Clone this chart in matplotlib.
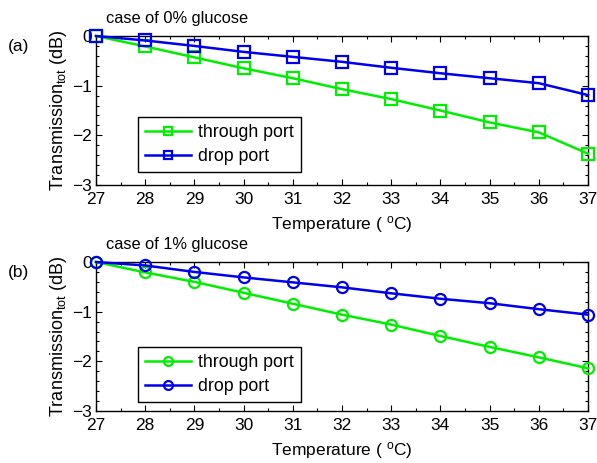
import matplotlib
matplotlib.use("Agg")
import matplotlib.pyplot as plt
from matplotlib.ticker import MultipleLocator

plt.rcParams['font.family'] = ['Liberation Sans', 'DejaVu Sans']

temperature = [27, 28, 29, 30, 31, 32, 33, 34, 35, 36, 37]
through_0 = [0, -0.21, -0.43, -0.65, -0.85, -1.07, -1.27, -1.50, -1.74, -1.94, -2.37]
drop_0 = [0, -0.09, -0.20, -0.32, -0.42, -0.52, -0.64, -0.75, -0.85, -0.95, -1.19]
through_1 = [0, -0.21, -0.40, -0.62, -0.84, -1.06, -1.26, -1.49, -1.71, -1.92, -2.14]
drop_1 = [0, -0.07, -0.20, -0.31, -0.41, -0.51, -0.63, -0.74, -0.83, -0.95, -1.06]

titles = ['case of 0% glucose', 'case of 1% glucose']
panel_labels = ['(a)', '(b)']
series_names = ['through port', 'drop port']

fig = plt.figure(figsize=(5.97, 4.63), dpi=100)
W, H = 597, 463
left, right = 96, 588
panels = [(36, 185, 117), (262, 411, 347)]
data = [(through_0, drop_0, 's'), (through_1, drop_1, 'o')]

for i, ((top, bot, legtop), (thr, drp, mk)) in enumerate(zip(panels, data)):
    ax = fig.add_axes([left / W, 1 - bot / H, (right - left) / W, (bot - top) / H])
    ax.plot(temperature, thr, color='#00ee00', marker=mk, markersize=8,
            markerfacecolor='none', markeredgewidth=1.6, linewidth=1.8,
            label=series_names[0], clip_on=False, zorder=3)
    ax.plot(temperature, drp, color='#0000ee', marker=mk, markersize=8,
            markerfacecolor='none', markeredgewidth=1.6, linewidth=1.8,
            label=series_names[1], clip_on=False, zorder=4)
    ax.set_xlim(27, 37)
    ax.set_ylim(-3, 0)
    ax.xaxis.set_major_locator(MultipleLocator(1))
    ax.xaxis.set_minor_locator(MultipleLocator(0.5))
    ax.yaxis.set_major_locator(MultipleLocator(1))
    ax.yaxis.set_minor_locator(MultipleLocator(0.2))
    ax.tick_params(which='both', direction='in', top=True, right=True,
                   labelsize=12.5)
    ax.tick_params(axis='x', which='major', pad=5)
    ax.tick_params(axis='y', which='major', pad=3)
    ax.tick_params(which='major', length=4, width=0.8)
    ax.tick_params(which='minor', length=2, width=0.8)
    for s in ax.spines.values():
        s.set_linewidth(1.0)
    ax.set_xlabel('Temperature ( $\\mathregular{^{o}}$C)', fontsize=12.5, labelpad=5)
    ax.set_ylabel('Transmission$\\mathregular{_{tot}}$ (dB)', fontsize=13, labelpad=2)
    leg = ax.legend(loc='upper left',
                    bbox_to_anchor=((138 - left) / (right - left), 1 - (legtop - top) / (bot - top)),
                    fontsize=12.8, frameon=True, fancybox=False, edgecolor='black',
                    framealpha=1, markerscale=0.8, handlelength=2.6, borderpad=0.4,
                    labelspacing=0.4, handletextpad=0.4, borderaxespad=0)
    leg.get_frame().set_linewidth(1.0)
    fig.text(106 / W, 1 - (top - 18) / H, titles[i], fontsize=11.8, ha='left', va='center')
    fig.text(8 / W, 1 - (top + 11) / H, panel_labels[i], fontsize=12.5, ha='left', va='center')

fig.savefig('out.png', dpi=100)
